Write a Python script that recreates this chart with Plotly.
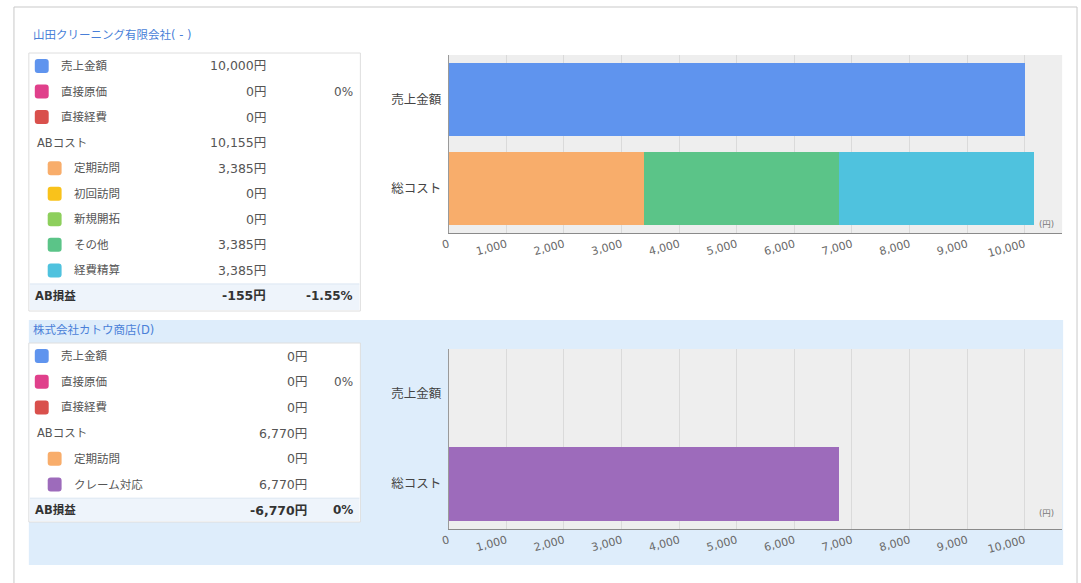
import plotly.graph_objects as go

W, H = 1081, 583
FONT = "DejaVu Sans, Noto Sans CJK JP"


def px(x):
    return x / W


def py(y):
    return 1 - y / H


# ---------------- data ----------------
categories = ["売上金額", "総コスト"]

c1_series = ["売上金額", "定期訪問", "その他", "経費精算"]
c1_values = [[10000, None], [None, 3385], [None, 3385], [None, 3385]]
c1_colors = ["#5f94ee", "#f8ad6b", "#5bc488", "#4fc2de"]

c2_series = ["クレーム対応"]
c2_values = [[None, 6770]]
c2_colors = ["#9d6bbb"]

x_tick_vals = [0, 1000, 2000, 3000, 4000, 5000, 6000, 7000, 8000, 9000, 10000]
x_tick_text = ["0", "1,000", "2,000", "3,000", "4,000", "5,000", "6,000",
               "7,000", "8,000", "9,000", "10,000"]
unit_label = "(円)"

t1_title = "山田クリーニング有限会社( - )"
t1_labels = ["売上金額", "直接原価", "直接経費", "ABコスト", "定期訪問", "初回訪問",
             "新規開拓", "その他", "経費精算", "AB損益"]
t1_values = ["10,000円", "0円", "0円", "10,155円", "3,385円", "0円", "0円",
             "3,385円", "3,385円", "-155円"]
t1_pct = ["", "0%", "", "", "", "", "", "", "", "-1.55%"]
t1_swatch = ["#5f94ee", "#e0408b", "#d9504c", None, "#f8ad6b", "#f9c21b",
             "#8dcf5c", "#5bc488", "#4fc2de", None]
t1_indent = [0, 0, 0, 0, 1, 1, 1, 1, 1, 0]

t2_title = "株式会社カトウ商店(D)"
t2_labels = ["売上金額", "直接原価", "直接経費", "ABコスト", "定期訪問", "クレーム対応", "AB損益"]
t2_values = ["0円", "0円", "0円", "6,770円", "0円", "6,770円", "-6,770円"]
t2_pct = ["", "0%", "", "", "", "", "0%"]
t2_swatch = ["#5f94ee", "#e0408b", "#d9504c", None, "#f8ad6b", "#9d6bbb", None]
t2_indent = [0, 0, 0, 0, 1, 1, 0]

# ---------------- figure ----------------
fig = go.Figure()

for name, vals, col in zip(c1_series, c1_values, c1_colors):
    fig.add_trace(go.Bar(y=categories, x=vals, name=name, orientation="h",
                         marker=dict(color=col, line=dict(width=0)),
                         width=0.82, xaxis="x", yaxis="y", showlegend=False))
for name, vals, col in zip(c2_series, c2_values, c2_colors):
    fig.add_trace(go.Bar(y=categories, x=vals, name=name, orientation="h",
                         marker=dict(color=col, line=dict(width=0)),
                         width=0.82, xaxis="x2", yaxis="y2", showlegend=False))

shapes = []
annotations = []

# outer frame
for (x0, y0, x1, y1) in [(6, 7, 1077, 7), (6, 7, 6, 583), (1077, 7, 1077, 583)]:
    shapes.append(dict(type="line", xref="paper", yref="paper",
                       x0=px(x0), y0=py(y0), x1=px(x1), y1=py(y1),
                       line=dict(color="#c9c9c9", width=1), layer="below"))

# section 2 background
shapes.append(dict(type="rect", xref="paper", yref="paper",
                   x0=px(21), y0=py(565), x1=px(1063), y1=py(320),
                   fillcolor="#deedfb", line=dict(width=0), layer="below"))

# plot backgrounds
plot_x0, plot_x1 = 444, 1062
for (ytop, ybot) in [(55, 233), (349, 529)]:
    shapes.append(dict(type="rect", xref="paper", yref="paper",
                       x0=px(plot_x0), y0=py(ybot), x1=px(plot_x1), y1=py(ytop),
                       fillcolor="#eeeeee", line=dict(width=0), layer="below"))


def rounded_square(cx, cy, s=14, r=3):
    x0, x1 = cx - s / 2, cx + s / 2
    y0, y1 = cy - s / 2, cy + s / 2
    X = lambda v: px(v)
    Y = lambda v: py(v)
    return (f"M {X(x0 + r)},{Y(y0)} L {X(x1 - r)},{Y(y0)} Q {X(x1)},{Y(y0)} {X(x1)},{Y(y0 + r)} "
            f"L {X(x1)},{Y(y1 - r)} Q {X(x1)},{Y(y1)} {X(x1 - r)},{Y(y1)} "
            f"L {X(x0 + r)},{Y(y1)} Q {X(x0)},{Y(y1)} {X(x0)},{Y(y1 - r)} "
            f"L {X(x0)},{Y(y0 + r)} Q {X(x0)},{Y(y0)} {X(x0 + r)},{Y(y0)} Z")


def draw_table(title, title_y, box_top, box_bot, row0, step, labels, values, pct,
               swatches, indents, val_right, pct_right):
    annotations.append(dict(text=title, x=px(23), y=py(title_y), xref="paper", yref="paper",
                            xanchor="left", yanchor="middle", showarrow=False,
                            font=dict(family=FONT, size=11.5, color="#4a7fd8")))
    shapes.append(dict(type="rect", xref="paper", yref="paper",
                       x0=px(21), y0=py(box_bot), x1=px(355), y1=py(box_top),
                       fillcolor="#ffffff", line=dict(color="#dedede", width=1), layer="below"))
    n = len(labels)
    for i in range(n):
        yc = row0 + i * step
        last = i == n - 1
        if last:
            shapes.append(dict(type="rect", xref="paper", yref="paper",
                               x0=px(22), y0=py(box_bot - 1), x1=px(354), y1=py(yc - 12),
                               fillcolor="#eef4fb", line=dict(width=0), layer="below"))
            shapes.append(dict(type="line", xref="paper", yref="paper",
                               x0=px(22), y0=py(yc - 12), x1=px(354), y1=py(yc - 12),
                               line=dict(color="#dce6f2", width=1), layer="below"))
        base = 27 + 13 * indents[i]
        if swatches[i]:
            shapes.append(dict(type="path", xref="paper", yref="paper",
                               path=rounded_square(base + 7, yc), fillcolor=swatches[i],
                               line=dict(width=0)))
            lx = base + 24
        else:
            lx = base - (2 if last else 0)
        col = "#333333" if last else "#555555"
        lab = f"<b>{labels[i]}</b>" if last else labels[i]
        annotations.append(dict(text=lab, x=px(lx), y=py(yc), xref="paper", yref="paper",
                                xanchor="left", yanchor="middle", showarrow=False,
                                font=dict(family=FONT, size=11.5, color=col)))
        v = f"<b>{values[i]}</b>" if last else values[i]
        annotations.append(dict(text=v, x=px(val_right), y=py(yc), xref="paper", yref="paper",
                                xanchor="right", yanchor="middle", showarrow=False,
                                font=dict(family=FONT, size=12.5, color=col)))
        if pct[i]:
            p = f"<b>{pct[i]}</b>" if last else pct[i]
            annotations.append(dict(text=p, x=px(pct_right), y=py(yc), xref="paper", yref="paper",
                                    xanchor="right", yanchor="middle", showarrow=False,
                                    font=dict(family=FONT, size=12, color=col)))


draw_table(t1_title, 35, 53, 311, 66, 25.55, t1_labels, t1_values, t1_pct,
           t1_swatch, t1_indent, 262, 350)
draw_table(t2_title, 330, 343, 522, 356, 25.7, t2_labels, t2_values, t2_pct,
           t2_swatch, t2_indent, 303, 350)

# unit labels
for yy in (224, 513):
    annotations.append(dict(text=unit_label, x=px(1046), y=py(yy), xref="paper", yref="paper",
                            xanchor="center", yanchor="middle", showarrow=False,
                            font=dict(family=FONT, size=8.5, color="#777777")))

xaxis_common = dict(range=[0, 10650], tickmode="array", tickvals=x_tick_vals,
                    ticktext=x_tick_text, tickangle=-15, showgrid=True,
                    gridcolor="#dadada", gridwidth=1, showline=True, linecolor="#8a8a8a",
                    linewidth=1, zeroline=False, ticks="",
                    tickfont=dict(family=FONT, size=11, color="#6a6a6a"),
                    domain=[px(plot_x0), px(plot_x1)], fixedrange=True)
yaxis_common = dict(autorange="reversed", showgrid=False, showline=True, linecolor="#9a9a9a",
                    linewidth=1, ticks="", zeroline=False, fixedrange=True,
                    tickfont=dict(family=FONT, size=12.5, color="#444444"), ticklabelstandoff=4)

fig.update_layout(
    width=W, height=H,
    margin=dict(l=0, r=0, t=0, b=0),
    paper_bgcolor="#ffffff",
    plot_bgcolor="rgba(0,0,0,0)",
    barmode="stack",
    bargap=0.18,
    font=dict(family=FONT, size=11, color="#555555"),
    xaxis=dict(anchor="y", **xaxis_common),
    yaxis=dict(anchor="x", domain=[py(233), py(55)], **yaxis_common),
    xaxis2=dict(anchor="y2", **xaxis_common),
    yaxis2=dict(anchor="x2", domain=[py(529), py(349)], **yaxis_common),
    shapes=shapes,
    annotations=annotations,
    showlegend=False,
    hovermode=False,
)

reset_css = (
    "var s=document.createElement('style');"
    "s.textContent='html,body{margin:0!important;padding:0!important;overflow:hidden!important;}"
    "body>div{margin:0!important;padding:0!important;}';"
    "document.head.appendChild(s);"
)

fig.write_html(
    "out.html",
    config={"displayModeBar": False},
    post_script=reset_css,
)
